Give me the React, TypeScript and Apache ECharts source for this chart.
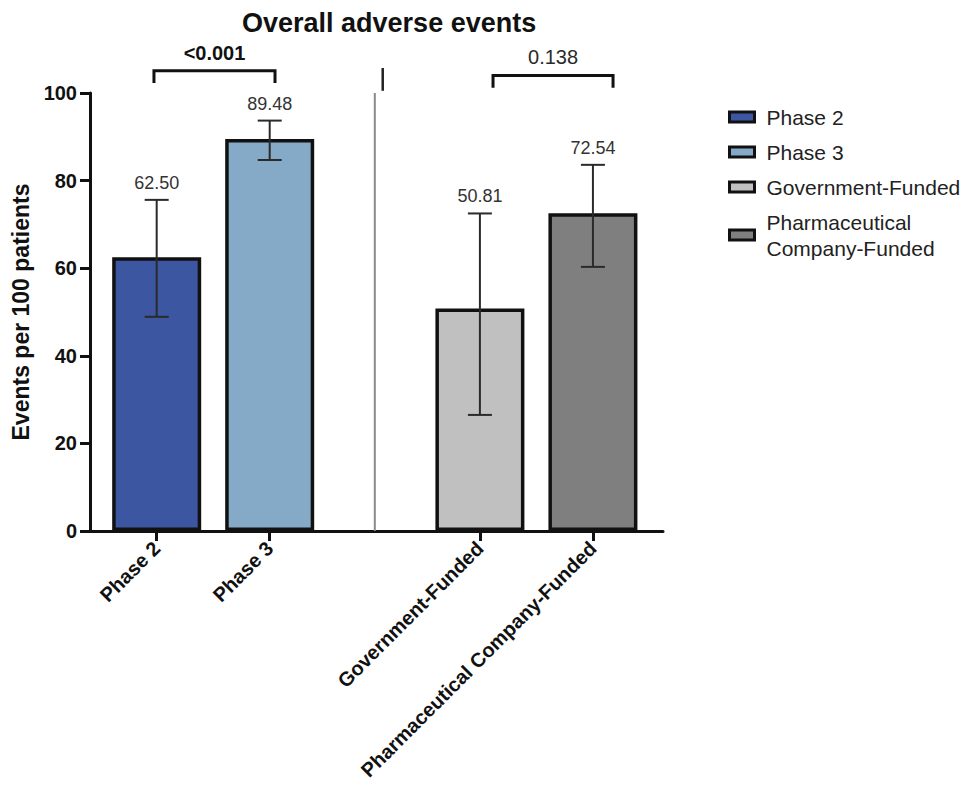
import React, { useEffect, useRef } from "react";
import * as echarts from "echarts";

// Groups and their summary statistics (events per 100 patients, 95% CI)
const categories = ["Phase 2", "Phase 3", "Government-Funded", "Pharmaceutical Company-Funded"];
const means = [62.5, 89.48, 50.81, 72.54];
const lowerCI = [48.9, 84.7, 26.5, 60.3];
const upperCI = [75.6, 93.7, 72.5, 83.6];

// Pairwise comparisons and their p-values
const comparisons = [
  [0, 1],
  [2, 3],
];
const pValues = ["<0.001", "0.138"];

const yTickValues = [0, 20, 40, 60, 80, 100];

// Layout along the horizontal value axis (slot units)
const xPos = [0.59, 1.59, 3.45, 4.45];
const xMax = 5.07;
const dividerX = 2.52;
const stubX = 2.59;
const bracketSpan = [
  [0.566, 1.637],
  [3.566, 4.628],
];
const bracketTop = [105.1, 104.0];
const bracketDrop = 2.8;

const barColors = ["#3c56a2", "#84aac7", "#c0c0c0", "#7f7f7f"];
const pLabelWeight = ["bold", "normal"];
const FONT = '"Liberation Sans", Arial, Helvetica, sans-serif';
const INK = "#111111";

export default function App() {
  const ref = useRef<HTMLDivElement>(null);

  useEffect(() => {
    document.body.style.margin = "0";
    if (!ref.current) return;
    const chart = echarts.init(ref.current, undefined, { renderer: "svg" });

    const nameAt = (v: number) => {
      const i = xPos.findIndex((p) => Math.abs(p - v) < 1e-6);
      return i >= 0 ? categories[i] : "";
    };

    const barSeries = categories.map((name, i) => ({
      type: "bar",
      name,
      data: [[xPos[i], means[i]]],
      barWidth: 89,
      barGap: "-100%",
      z: 2,
      itemStyle: { color: barColors[i], borderColor: INK, borderWidth: 3.5 },
    }));

    const errorSeries = {
      type: "custom",
      name: "ci",
      z: 4,
      encode: { x: 0, y: [1, 2] },
      data: means.map((m, i) => [xPos[i], lowerCI[i], upperCI[i], m]),
      renderItem: (_params: any, api: any) => {
        const x = api.value(0);
        const top = api.coord([x, api.value(2)]);
        const bot = api.coord([x, api.value(1)]);
        const half = 12;
        const ls = { stroke: "#2a2a2a", lineWidth: 2 };
        return {
          type: "group",
          children: [
            { type: "line", shape: { x1: top[0], y1: top[1], x2: bot[0], y2: bot[1] }, style: ls },
            { type: "line", shape: { x1: top[0] - half, y1: top[1], x2: top[0] + half, y2: top[1] }, style: ls },
            { type: "line", shape: { x1: bot[0] - half, y1: bot[1], x2: bot[0] + half, y2: bot[1] }, style: ls },
            {
              type: "text",
              x: top[0],
              y: top[1] - 17,
              style: {
                text: Number(api.value(3)).toFixed(2),
                align: "center",
                verticalAlign: "middle",
                fontSize: 18,
                fontFamily: FONT,
                fill: "#333333",
              },
            },
          ],
        };
      },
    };

    const bracketSeries = {
      type: "custom",
      name: "brackets",
      z: 4,
      clip: false,
      encode: { x: [0, 1], y: [2, 3] },
      data: comparisons.map((_, i) => [
        bracketSpan[i][0],
        bracketSpan[i][1],
        bracketTop[i],
        bracketTop[i] - bracketDrop,
        i,
      ]),
      renderItem: (_params: any, api: any) => {
        const i = api.value(4);
        const a = api.coord([api.value(0), api.value(2)]);
        const b = api.coord([api.value(1), api.value(2)]);
        const d = api.coord([api.value(0), api.value(3)]);
        return {
          type: "group",
          children: [
            {
              type: "polyline",
              shape: { points: [[a[0], d[1]], a, b, [b[0], d[1]]] },
              style: { stroke: INK, lineWidth: 3, fill: "none" },
            },
            {
              type: "text",
              x: (a[0] + b[0]) / 2,
              y: a[1] - 18,
              style: {
                text: pValues[i],
                align: "center",
                verticalAlign: "middle",
                fontSize: 20,
                fontWeight: pLabelWeight[i],
                fontFamily: FONT,
                fill: i === 0 ? INK : "#2a2a2a",
              },
            },
          ],
        };
      },
    };

    const separatorSeries = {
      type: "custom",
      name: "separators",
      z: 1,
      clip: false,
      encode: { x: 0, y: [1, 2] },
      data: [
        [dividerX, 0, 100, 0],
        [stubX, 100.5, 105.7, 1],
      ],
      renderItem: (_params: any, api: any) => {
        const p1 = api.coord([api.value(0), api.value(1)]);
        const p2 = api.coord([api.value(0), api.value(2)]);
        const isStub = api.value(3) === 1;
        return {
          type: "line",
          shape: { x1: p1[0], y1: p1[1], x2: p2[0], y2: p2[1] },
          style: { stroke: isStub ? "#222" : "#8a8a8a", lineWidth: isStub ? 2.5 : 2 },
        };
      },
    };

    chart.setOption({
      animation: false,
      backgroundColor: "#ffffff",
      textStyle: { fontFamily: FONT },
      title: {
        text: "Overall adverse events",
        left: 237,
        top: 4,
        textStyle: { fontSize: 27, fontWeight: "bold", color: INK, fontFamily: FONT },
      },
      legend: {
        data: categories,
        orient: "vertical",
        left: 723,
        top: 99,
        itemWidth: 25,
        itemHeight: 10,
        itemGap: 9,
        selectedMode: false,
        icon: "rect",
        itemStyle: { borderColor: INK, borderWidth: 3 },
        formatter: (n: string) => n.replace("Pharmaceutical ", "Pharmaceutical\n"),
        textStyle: {
          fontSize: 21,
          lineHeight: 26,
          color: "#222222",
          fontFamily: FONT,
          padding: [0, 0, 0, 7],
        },
      },
      grid: { left: 90, right: 307, top: 93, bottom: 265, containLabel: false },
      xAxis: {
        type: "value",
        min: 0,
        max: xMax,
        splitLine: { show: false },
        axisLine: { show: true, lineStyle: { color: INK, width: 3 } },
        axisTick: { show: true, customValues: xPos, length: 10, lineStyle: { color: INK, width: 3 } },
        axisLabel: {
          customValues: xPos,
          rotate: 45,
          margin: 14,
          fontSize: 20,
          fontWeight: "bold",
          color: INK,
          fontFamily: FONT,
          formatter: (v: number) => nameAt(v),
        },
      },
      yAxis: {
        type: "value",
        min: yTickValues[0],
        max: yTickValues[yTickValues.length - 1],
        interval: 20,
        name: "Events per 100 patients",
        nameLocation: "middle",
        nameGap: 56,
        nameTextStyle: { fontSize: 23, fontWeight: "bold", color: INK, fontFamily: FONT },
        splitLine: { show: false },
        axisLine: { show: true, lineStyle: { color: INK, width: 3 } },
        axisTick: { show: true, length: 10, lineStyle: { color: INK, width: 3 } },
        axisLabel: { fontSize: 20, fontWeight: "bold", color: INK, margin: 13, fontFamily: FONT },
      },
      series: [...barSeries, separatorSeries, errorSeries, bracketSeries],
    });

    return () => chart.dispose();
  }, []);

  return <div ref={ref} style={{ width: 970, height: 796 }} />;
}
